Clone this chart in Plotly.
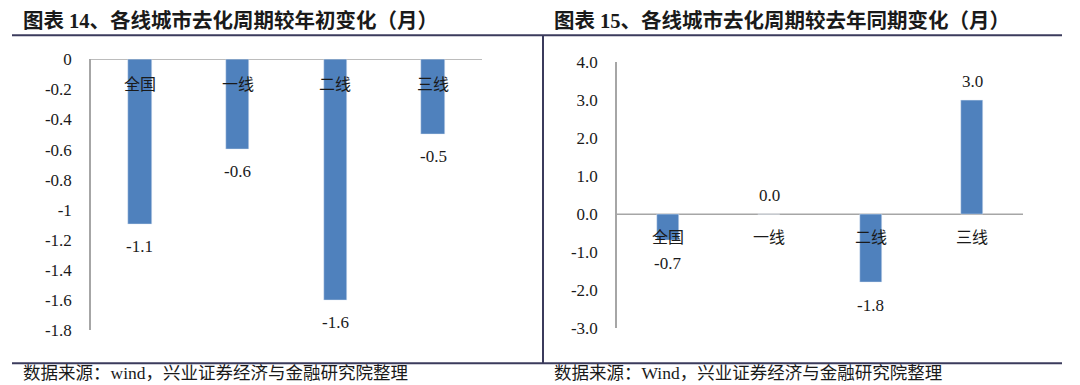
import plotly.graph_objects as go

# ---- data ----
categories = ["全国", "一线", "二线", "三线"]
left_values = [-1.1, -0.6, -1.6, -0.5]
right_values = [-0.7, 0.0, -1.8, 3.0]
left_ticks = [0, -0.2, -0.4, -0.6, -0.8, -1.0, -1.2, -1.4, -1.6, -1.8]
left_ticktext = ["0", "-0.2", "-0.4", "-0.6", "-0.8", "-1", "-1.2", "-1.4", "-1.6", "-1.8"]
right_ticks = [4, 3, 2, 1, 0, -1, -2, -3]
right_ticktext = ["4.0", "3.0", "2.0", "1.0", "0.0", "-1.0", "-2.0", "-3.0"]
left_title = "图表 14、各线城市去化周期较年初变化（月）"
right_title = "图表 15、各线城市去化周期较去年同期变化（月）"
left_source = "数据来源：wind，兴业证券经济与金融研究院整理"
right_source = "数据来源：Wind，兴业证券经济与金融研究院整理"

W, H = 1080, 385
BAR = "#4F81BD"
TXT = "#1a1a1a"
AX = "#A6A6A6"
FRAME = "#3B3B5C"
SERIF = "Liberation Serif, Noto Sans CJK SC, serif"
CJK = "Noto Sans CJK SC, Liberation Serif, serif"

# observed vertical mapping of the viewer (render_y = A + B * figure_y)
A, B = 8.8, 0.948


def px_x(x):
    return x / W


def px_y(y):
    yf = (y - A) / B
    return 1 - yf / H


fig = go.Figure()
fig.add_trace(go.Bar(x=categories, y=left_values, marker_color=BAR, width=0.24,
                     xaxis="x", yaxis="y", showlegend=False, hoverinfo="skip"))
fig.add_trace(go.Bar(x=categories, y=right_values, marker_color=BAR, width=0.22,
                     xaxis="x2", yaxis="y2", showlegend=False, hoverinfo="skip"))

annotations = []
# category labels just below zero line
for c in categories:
    annotations.append(dict(x=c, y=0, xref="x", yref="y", text=c, showarrow=False,
                            yanchor="middle", yshift=-24,
                            font=dict(family=CJK, size=16, color=TXT)))
    annotations.append(dict(x=c, y=0, xref="x2", yref="y2", text=c, showarrow=False,
                            yanchor="middle", yshift=-22,
                            font=dict(family=CJK, size=16, color=TXT)))
# value labels
for c, v in zip(categories, left_values):
    annotations.append(dict(x=c, y=v, xref="x", yref="y", text=f"{v:.1f}", showarrow=False,
                            yanchor="middle", yshift=-22,
                            font=dict(family=SERIF, size=17, color=TXT)))
for c, v in zip(categories, right_values):
    annotations.append(dict(x=c, y=v, xref="x2", yref="y2", text=f"{v:.1f}", showarrow=False,
                            yanchor="middle", yshift=(19 if v >= 0 else -23),
                            font=dict(family=SERIF, size=17, color=TXT)))
# titles and sources
annotations += [
    dict(x=px_x(21), y=px_y(20), xref="paper", yref="paper", text=f"<b>{left_title}</b>",
         showarrow=False, xanchor="left", yanchor="middle",
         font=dict(family=SERIF, size=20.5, color=TXT)),
    dict(x=px_x(552), y=px_y(20), xref="paper", yref="paper", text=f"<b>{right_title}</b>",
         showarrow=False, xanchor="left", yanchor="middle",
         font=dict(family=SERIF, size=20.5, color=TXT)),
    dict(x=px_x(21), y=px_y(372), xref="paper", yref="paper", text=left_source,
         showarrow=False, xanchor="left", yanchor="middle",
         font=dict(family=SERIF, size=17.5, color=TXT)),
    dict(x=px_x(552), y=px_y(372), xref="paper", yref="paper", text=right_source,
         showarrow=False, xanchor="left", yanchor="middle",
         font=dict(family=SERIF, size=17.5, color=TXT)),
]

shapes = [
    dict(type="line", xref="paper", yref="paper", x0=px_x(12), x1=px_x(1062),
         y0=px_y(35), y1=px_y(35), line=dict(color=FRAME, width=2)),
    dict(type="line", xref="paper", yref="paper", x0=px_x(12), x1=px_x(1062),
         y0=px_y(362), y1=px_y(362), line=dict(color=FRAME, width=2)),
    dict(type="line", xref="paper", yref="paper", x0=px_x(543), x1=px_x(543),
         y0=px_y(35), y1=px_y(362), line=dict(color=FRAME, width=2)),
    # zero lines (category axes)
    dict(type="line", xref="x domain", yref="y", x0=0, x1=1, y0=0, y1=0,
         line=dict(color=AX, width=1.5), layer="below"),
    dict(type="line", xref="x2 domain", yref="y2", x0=0, x1=1, y0=0, y1=0,
         line=dict(color=AX, width=1.5), layer="below"),
]

fig.update_layout(
    width=W, height=H,
    margin=dict(l=0, r=0, t=0, b=0),
    paper_bgcolor="white", plot_bgcolor="white",
    bargap=0,
    annotations=annotations,
    shapes=shapes,
    xaxis=dict(domain=[px_x(91), px_x(482)], anchor="y", showticklabels=False,
               showgrid=False, zeroline=False, showline=False,
               categoryorder="array", categoryarray=categories),
    yaxis=dict(domain=[px_y(329), px_y(59)], anchor="x", range=[-1.8, 0],
               tickvals=left_ticks, ticktext=left_ticktext, showgrid=False,
               zeroline=False, showline=True, linecolor=AX, linewidth=1.5,
               ticks="", ticklabelstandoff=14,
               tickfont=dict(family=SERIF, size=17, color=TXT)),
    xaxis2=dict(domain=[px_x(617), px_x(1023)], anchor="y2", showticklabels=False,
                showgrid=False, zeroline=False, showline=False,
                categoryorder="array", categoryarray=categories),
    yaxis2=dict(domain=[px_y(327), px_y(62)], anchor="x2", range=[-3, 4],
                tickvals=right_ticks, ticktext=right_ticktext, showgrid=False,
                zeroline=False, showline=True, linecolor=AX, linewidth=1.5,
                ticks="", ticklabelstandoff=14,
                tickfont=dict(family=SERIF, size=17, color=TXT)),
)

fig.write_html(
    "out.html",
    config={"displayModeBar": False},
    post_script="document.body.style.margin='0';document.documentElement.style.overflow='hidden';",
)
